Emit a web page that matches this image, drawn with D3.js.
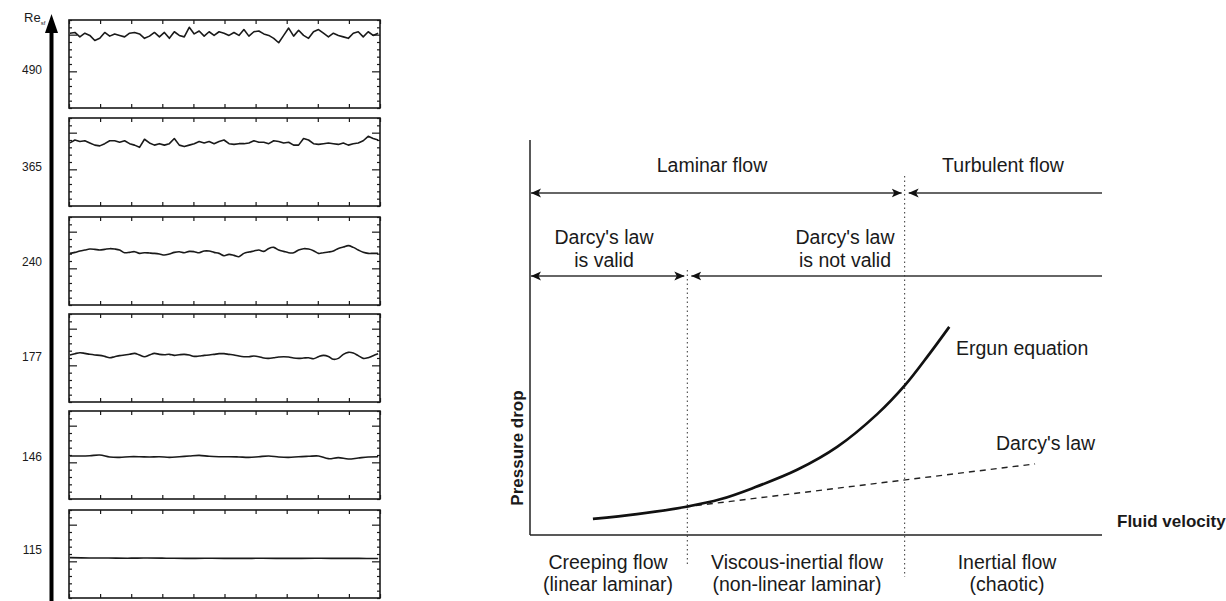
<!DOCTYPE html>
<html><head><meta charset="utf-8">
<script src="https://cdn.jsdelivr.net/npm/d3@7"></script>
<style>
body{margin:0;background:#fff}
svg{display:block}
text{font-family:"Liberation Sans",Arial,sans-serif;fill:#1a1a1a}
</style>
</head><body>
<svg id="c" width="1226" height="601"></svg>
<script>
// ---------- LEFT: time signals at different Re_sf ----------
const reLabels = ["490","365","240","177","146","115"];
const sig490 = [10.2,10.3,9.7,10.2,9.9,9.2,9.5,10.3,9.8,10.1,9.9,9.7,10.2,10.3,10.1,9.5,9.8,10.3,9.7,10.3,9.5,10.4,9.9,9.7,11.0,10.1,10.5,9.8,10.4,9.9,10.4,10.2,9.9,10.3,9.9,10.7,9.8,10.4,10.5,10.1,9.9,9.5,8.9,9.9,10.9,9.8,10.6,9.9,9.5,10.4,10.7,10.2,9.7,10.2,9.9,9.7,9.5,10.2,10.4,9.7,10.4,9.9,10.2];
const sig365 = [8.6,9.0,8.8,8.9,8.6,8.3,8.2,8.5,8.9,8.9,8.7,8.9,8.5,8.3,8.0,9.1,8.6,8.3,8.5,8.3,8.5,9.2,8.3,8.1,8.3,8.5,8.8,8.6,8.8,8.5,8.8,9.0,8.5,8.4,8.5,8.5,8.6,8.9,8.7,8.7,8.5,8.9,8.8,8.6,8.7,8.3,8.3,9.2,9.0,8.5,8.4,8.5,8.6,8.5,8.4,8.6,8.3,8.5,8.6,8.9,9.5,9.2,9.0];
const sig240 = [7.04,7.18,7.36,7.50,7.63,7.59,7.50,7.59,7.68,7.63,7.50,7.13,7.18,7.27,7.04,7.13,7.09,7.04,6.95,6.81,6.95,7.18,7.27,7.13,7.31,7.27,7.13,7.36,7.36,7.18,7.04,6.72,6.90,6.77,6.59,7.04,7.22,7.36,7.50,7.31,7.72,7.86,7.50,7.31,7.13,7.13,7.50,7.68,7.63,7.41,7.04,7.13,7.22,7.36,7.72,7.90,8.09,7.86,7.50,7.18,7.04,7.04,7.04];
const sig177 = [6.41,6.59,6.72,6.63,6.50,6.41,6.36,6.22,6.04,6.18,6.32,6.41,6.50,6.63,6.41,6.18,6.41,6.63,6.50,6.45,6.50,6.36,6.45,6.50,6.41,6.22,6.27,6.36,6.41,6.50,6.59,6.59,6.50,6.41,6.27,6.18,6.18,6.27,6.18,5.99,5.95,6.04,6.13,6.18,6.13,5.99,5.95,5.99,6.04,5.90,6.18,6.36,6.22,5.82,5.95,6.50,6.77,6.68,6.32,5.95,6.04,6.32,6.59];
const sig146 = [5.86,5.86,5.90,6.00,5.73,5.68,5.77,5.77,5.73,5.77,5.68,5.77,5.86,5.95,5.82,5.77,5.77,5.73,5.68,5.77,5.86,5.73,5.68,5.77,5.82,5.86,5.50,5.64,5.45,5.59,5.73,5.77];
const sig115 = [5.50,5.46,5.45,5.43,5.45,5.43,5.40,5.42,5.40,5.40,5.42,5.40,5.40,5.42,5.40,5.40,5.38];
const signals = [sig490, sig365, sig240, sig177, sig146, sig115];
const yTickValues = d3.range(0, 13);
const yMajorTicks = [5, 10];

// ---------- RIGHT: pressure drop vs fluid velocity ----------
const ergunV = [1.10,1.87,2.71,3.34,3.90,4.67,5.37,6.07,6.56,6.98,7.33];
const ergunP = [0.41,0.53,0.71,0.91,1.19,1.65,2.23,3.06,3.80,4.58,5.27];
const darcyV = [2.71, 8.83];
const darcyP = [0.71, 1.80];
const regimeBounds = [2.75, 6.55];

const svg = d3.select("#c");
const ink = "#1a1a1a";

// layout for left column
const panelX0 = 69, panelX1 = 380, panelH = 88;
const panelTops = [20, 118, 217, 314, 411, 510];
const labelYs = [70, 167, 262, 357, 457, 550];

// big vertical arrow
const axisX = 51.5;
svg.append("line").attr("x1", axisX).attr("x2", axisX).attr("y1", 28).attr("y2", 601)
  .attr("stroke", "#000").attr("stroke-width", 4);
svg.append("path").attr("d", d3.line()([[axisX-6.5,33],[axisX,14],[axisX+6.5,33]]) + "Z").attr("fill", "#000");
const reT = svg.append("text").attr("x", 24).attr("y", 22).attr("font-size", 13);
reT.append("tspan").text("Re");
reT.append("tspan").attr("font-size", 6).attr("dy", 3).text("sf");

const xT = d3.scaleLinear([0, 10], [panelX0, panelX1]);

signals.forEach((sig, i) => {
  const top = panelTops[i];
  const y = d3.scaleLinear([0, 12], [top + panelH, top]);
  const g = svg.append("g");
  g.append("text").attr("x", 42).attr("y", labelYs[i]).attr("dy", "0.35em")
    .attr("text-anchor", "end").attr("font-size", 12).text(reLabels[i]);
  const ax = (gen, tx, ty) => g.append("g").attr("transform", `translate(${tx},${ty})`).call(gen)
      .call(s => s.select(".domain").remove())
      .call(s => s.selectAll("line").attr("stroke", ink).attr("stroke-width", 1.2));
  ax(d3.axisTop(xT).ticks(10).tickSize(-4).tickFormat(""), 0, top);
  ax(d3.axisBottom(xT).ticks(10).tickSize(-4).tickFormat(""), 0, top + panelH);
  const lft = ax(d3.axisLeft(y).tickValues(yTickValues).tickSize(-3).tickFormat(""), panelX0, 0);
  lft.selectAll(".tick").filter(d => yMajorTicks.includes(d)).select("line").attr("x2", 8);
  const rgt = ax(d3.axisRight(y).tickValues(yTickValues).tickSize(-3).tickFormat(""), panelX1, 0);
  rgt.selectAll(".tick").filter(d => yMajorTicks.includes(d)).select("line").attr("x2", -8);
  g.append("rect").attr("x", panelX0).attr("y", top).attr("width", panelX1 - panelX0).attr("height", panelH)
    .attr("fill", "none").attr("stroke", ink).attr("stroke-width", 1.6);
  const xs = d3.scaleLinear([0, sig.length - 1], [xT(0.03), xT(9.94)]);
  g.append("path").datum(sig)
    .attr("d", d3.line().x((d, j) => xs(j)).y(d => y(d)).curve(i < 2 ? d3.curveLinear : d3.curveCatmullRom))
    .attr("fill", "none").attr("stroke", ink).attr("stroke-width", 1.6).attr("stroke-linejoin", "round");
});

// ---------- right chart ----------
const xR = d3.scaleLinear([0, 10], [530, 1102]);
const yR = d3.scaleLinear([0, 10], [535, 140]);

const defs = svg.append("defs");
defs.append("marker").attr("id", "ah").attr("viewBox", "0 0 10 10").attr("refX", 10).attr("refY", 5)
  .attr("markerWidth", 10).attr("markerHeight", 10).attr("markerUnits", "userSpaceOnUse").attr("orient", "auto-start-reverse")
  .append("path").attr("d", "M0,0.5 L10,5 L0,9.5 L2.5,5 Z").attr("fill", "#111");

const rg = svg.append("g");
rg.append("line").attr("x1", xR(0)).attr("x2", xR(0)).attr("y1", yR(10)).attr("y2", yR(0)).attr("stroke", "#222").attr("stroke-width", 1.5);
rg.append("line").attr("x1", xR(0)).attr("x2", xR(10)).attr("y1", yR(0)).attr("y2", yR(0)).attr("stroke", "#222").attr("stroke-width", 1.5);

rg.append("line").attr("x1", xR(regimeBounds[0])).attr("x2", xR(regimeBounds[0])).attr("y1", 270).attr("y2", 567)
  .attr("stroke", "#333").attr("stroke-width", 1).attr("stroke-dasharray", "1.5,3");
rg.append("line").attr("x1", xR(regimeBounds[1])).attr("x2", xR(regimeBounds[1])).attr("y1", 176).attr("y2", 577)
  .attr("stroke", "#333").attr("stroke-width", 1).attr("stroke-dasharray", "1.5,3");

const arrow = (x1, x2, yy, startHead, endHead) => {
  const l = rg.append("line").attr("x1", x1).attr("x2", x2).attr("y1", yy).attr("y2", yy)
    .attr("stroke", "#333").attr("stroke-width", 1.3);
  if (startHead) l.attr("marker-start", "url(#ah)");
  if (endHead) l.attr("marker-end", "url(#ah)");
};
const bx0 = xR(regimeBounds[0]), bx1 = xR(regimeBounds[1]);
arrow(xR(0) + 1, bx1 - 3, 193, true, true);
arrow(xR(10), bx1 + 4, 193, false, true);
arrow(xR(0) + 1, bx0 - 3, 276, true, true);
arrow(xR(10), bx0 + 4, 276, false, true);

rg.append("path").datum(d3.zip(darcyV, darcyP))
  .attr("d", d3.line().x(d => xR(d[0])).y(d => yR(d[1])))
  .attr("fill", "none").attr("stroke", "#222").attr("stroke-width", 1.4).attr("stroke-dasharray", "6,5");
rg.append("path").datum(d3.zip(ergunV, ergunP))
  .attr("d", d3.line().x(d => xR(d[0])).y(d => yR(d[1])).curve(d3.curveCatmullRom.alpha(0.5)))
  .attr("fill", "none").attr("stroke", "#111").attr("stroke-width", 2.7);

const FS = 19.5;
const txt = (x, yy, s, opts = {}) => rg.append("text").attr("x", x).attr("y", yy)
  .attr("text-anchor", opts.anchor || "middle").attr("font-size", opts.size || FS)
  .attr("font-weight", opts.weight || "normal").text(s);
txt(712, 172, "Laminar flow");
txt(1003, 172, "Turbulent flow");
txt(604, 244, "Darcy's law");
txt(604, 267, "is valid");
txt(845, 244, "Darcy's law");
txt(845, 267, "is not valid");
txt(956, 355, "Ergun equation", {anchor: "start"});
txt(996, 450, "Darcy's law", {anchor: "start"});
txt(1117, 527, "Fluid velocity", {anchor: "start", size: 17, weight: "bold"});
txt(608, 569, "Creeping flow");
txt(608, 591, "(linear laminar)");
txt(797, 569, "Viscous-inertial flow");
txt(797, 591, "(non-linear laminar)");
txt(1007, 569, "Inertial flow");
txt(1007, 591, "(chaotic)");
rg.append("text").attr("transform", "translate(523,448) rotate(-90)").attr("text-anchor", "middle")
  .attr("font-size", 17).attr("font-weight", "bold").text("Pressure drop");
</script>
</body></html>
